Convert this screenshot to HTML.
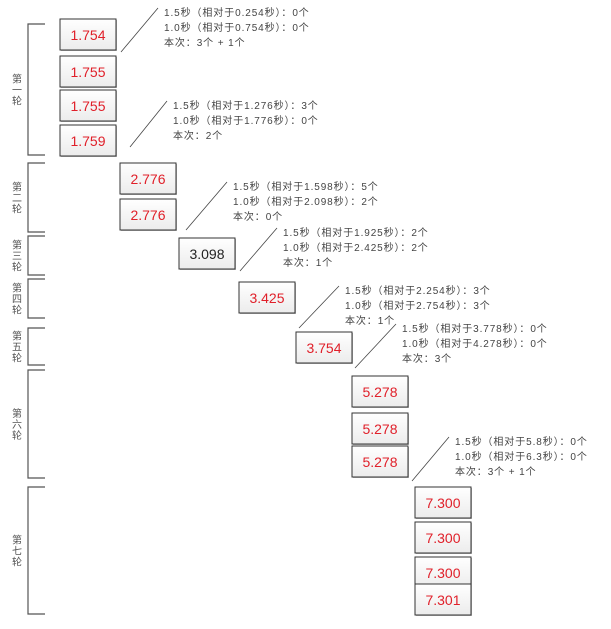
<!DOCTYPE html>
<html><head><meta charset="utf-8"><style>
body{margin:0;background:#fff;}
svg{display:block;font-family:"Liberation Sans","Noto Sans CJK SC",sans-serif;}
.num{font-size:14px;fill:#e0202a;text-anchor:middle;}
.ann{font-size:10px;fill:#444;letter-spacing:0.9px;}
.lab{font-size:10px;fill:#555;text-anchor:middle;}
</style></head><body>
<svg id="c" width="611" height="629" viewBox="0 0 611 629">
<defs><linearGradient id="g" x1="0" y1="0" x2="0" y2="1"><stop offset="0" stop-color="#fff"/><stop offset="1" stop-color="#ececec"/></linearGradient></defs>
</svg>
<script>
const values=["1.754","1.755","1.755","1.759","2.776","2.776","3.098","3.425","3.754","5.278","5.278","5.278","7.300","7.300","7.300","7.301"];
const boxX=[60,60,60,60,120,120,179,239,296,352,352,352,415,415,415,415];
const boxY=[19,56,90,125,163,199,238,282,332,376,413,446,487,522,557,584];
const roundLabels=["第一轮","第二轮","第三轮","第四轮","第五轮","第六轮","第七轮"];
const roundTop=[24,163,236,279,328,370,487];
const roundBot=[155,232,275,318,365,478,614];
const annX=[164,173,233,283,345,402,455];
const annY=[12,105,186,232,290,328,441];
const annText=[
["1.5秒（相对于0.254秒）：0个","1.0秒（相对于0.754秒）：0个","本次：3个 + 1个"],
["1.5秒（相对于1.276秒）：3个","1.0秒（相对于1.776秒）：0个","本次：2个"],
["1.5秒（相对于1.598秒）：5个","1.0秒（相对于2.098秒）：2个","本次：0个"],
["1.5秒（相对于1.925秒）：2个","1.0秒（相对于2.425秒）：2个","本次：1个"],
["1.5秒（相对于2.254秒）：3个","1.0秒（相对于2.754秒）：3个","本次：1个"],
["1.5秒（相对于3.778秒）：0个","1.0秒（相对于4.278秒）：0个","本次：3个"],
["1.5秒（相对于5.8秒）：0个","1.0秒（相对于6.3秒）：0个","本次：3个 + 1个"]];
const lineFrom=[[121,52],[130,147],[186,230],[240,271],[299,328],[355,368],[412,481]];
const svg=document.getElementById('c');const NS="http://www.w3.org/2000/svg";
function mk(t,a,p){const e=document.createElementNS(NS,t);for(const k in a)e.setAttribute(k,a[k]);(p||svg).appendChild(e);return e;}
values.forEach((v,i)=>{
 const g=mk('g',{});
 
 
 mk('rect',{x:boxX[i]+1,y:boxY[i]+1,width:56,height:31,fill:'#bbb'},g);
 mk('rect',{x:boxX[i],y:boxY[i],width:56,height:31,fill:'url(#g)',stroke:'#333','stroke-width':1},g);
 const t=mk('text',{x:boxX[i]+28,y:boxY[i]+21,class:'num'},g);
 if(v==="3.098")t.style.fill='#222';
 t.textContent=v;
});
roundLabels.forEach((l,i)=>{
 const g=mk('g',{});
 
 
 mk('path',{d:`M45 ${roundTop[i]}H28V${roundBot[i]}H45`,fill:'none',stroke:'#555','stroke-width':1.2},g);
 const mid=(roundTop[i]+roundBot[i])/2;
 [...l].forEach((ch,j)=>{const t=mk('text',{x:17,y:mid-11+j*11+4,class:'lab'},g);t.textContent=ch;});
});
annText.forEach((lines,i)=>{
 const g=mk('g',{});
 
 
 mk('line',{x1:lineFrom[i][0],y1:lineFrom[i][1],x2:annX[i]-6,y2:annY[i]-4,stroke:'#444','stroke-width':0.8},g);
 lines.forEach((s,j)=>{const t=mk('text',{x:annX[i],y:annY[i]+4+j*15,class:'ann'},g);t.textContent=s;});
});
</script>
</body></html>
